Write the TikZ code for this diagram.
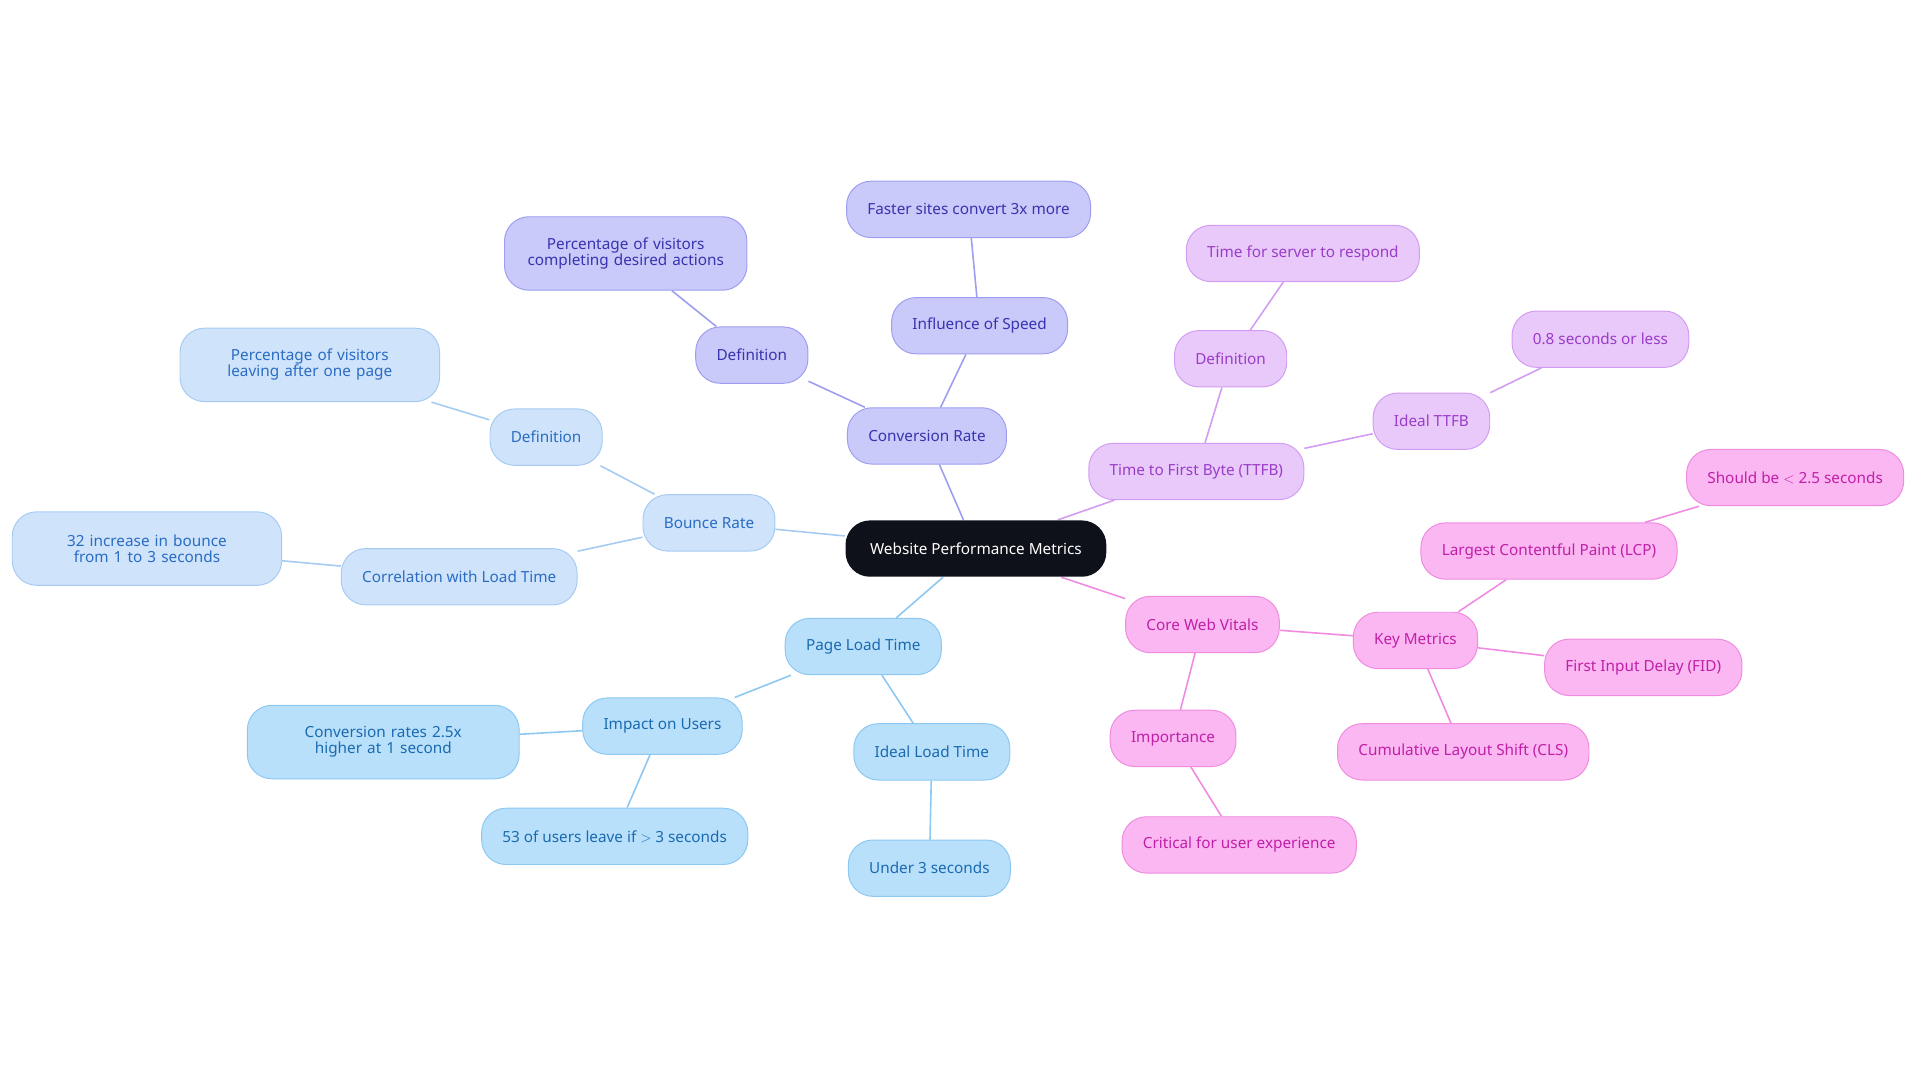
\documentclass[tikz,border=0pt]{standalone}
\usepackage{fontspec}
\setmainfont{Noto Sans}
\usetikzlibrary{backgrounds}
\definecolor{cB}{HTML}{CFE3FB}\definecolor{bB}{HTML}{A6CBF3}\definecolor{tB}{HTML}{2A6CC4}
\definecolor{cP}{HTML}{B9E0FB}\definecolor{bP}{HTML}{8CC8F2}\definecolor{tP}{HTML}{1A6AB0}
\definecolor{cC}{HTML}{C9C9FA}\definecolor{bC}{HTML}{9E9EF0}\definecolor{tC}{HTML}{3833AE}
\definecolor{cT}{HTML}{E8C9FA}\definecolor{bT}{HTML}{D29CF2}\definecolor{tT}{HTML}{9A3CC8}
\definecolor{cV}{HTML}{FBB7F1}\definecolor{bV}{HTML}{EF8BE0}\definecolor{tV}{HTML}{C01FA8}
\definecolor{dark}{HTML}{0E111A}
\tikzset{
 base/.style={rounded corners=20pt,minimum height=46pt,inner xsep=17pt,inner ysep=4pt,font=\fontsize{12.5}{13}\selectfont,align=center,line width=0.8pt},
 nb/.style={base,fill=cB,draw=bB,text=tB},
 np/.style={base,fill=cP,draw=bP,text=tP},
 nc/.style={base,fill=cC,draw=bC,text=tC},
 nt/.style={base,fill=cT,draw=bT,text=tT},
 nv/.style={base,fill=cV,draw=bV,text=tV},
 eb/.style={draw=bB,line width=1.3pt},
 ep/.style={draw=bP,line width=1.3pt},
 ec/.style={draw=bC,line width=1.3pt},
 et/.style={draw=bT,line width=1.3pt},
 ev/.style={draw=bV,line width=1.3pt},
}
\begin{document}
\begin{tikzpicture}[x=1pt,y=-1pt]
\useasboundingbox (0,0) rectangle (1568,884);
\node[base,fill=dark,text=white,minimum width=213pt] (m) at (797,448) {Website Performance Metrics};
% bounce
\node[nb] (br) at (579,427) {Bounce Rate};
\node[nb] (bd) at (446,357) {Definition};
\node[nb,text width=178pt,minimum height=60pt] (bdt) at (253,298) {Percentage of visitors leaving after one page};
\node[nb] (bc) at (375,471) {Correlation with Load Time};
\node[nb,text width=186pt,minimum height=60pt] (bct) at (120,448) {32 increase in bounce from 1 to 3 seconds};
% page load
\node[np] (pl) at (705,528) {Page Load Time};
\node[np] (pi) at (541,593) {Impact on Users};
\node[np,text width=188pt,minimum height=60pt] (pic) at (313,606) {Conversion rates 2.5x higher at 1 second};
\node[np] (pil) at (502,683) {53 of users leave if $>$ 3 seconds};
\node[np] (pd) at (761,614) {Ideal Load Time};
\node[np] (pdu) at (759,709) {Under 3 seconds};
% conversion
\node[nc] (cr) at (757,356) {Conversion Rate};
\node[nc] (cd) at (614,290) {Definition};
\node[nc,text width=164pt,minimum height=60pt] (cdt) at (511,207) {Percentage of visitors completing desired actions};
\node[nc] (cs) at (800,266) {Influence of Speed};
\node[nc] (csf) at (791,171) {Faster sites convert 3x more};
% ttfb
\node[nt] (tt) at (977,385) {Time to First Byte (TTFB)};
\node[nt] (td) at (1005,293) {Definition};
\node[nt] (tds) at (1064,207) {Time for server to respond};
\node[nt] (ti) at (1169,344) {Ideal TTFB};
\node[nt] (tis) at (1307,277) {0.8 seconds or less};
% core web vitals
\node[nv] (cw) at (982,510) {Core Web Vitals};
\node[nv] (ci) at (958,603) {Importance};
\node[nv] (cic) at (1012,690) {Critical for user experience};
\node[nv] (ck) at (1156,523) {Key Metrics};
\node[nv] (lcp) at (1265,450) {Largest Contentful Paint (LCP)};
\node[nv] (lcs) at (1466,390) {Should be $<$ 2.5 seconds};
\node[nv] (fid) at (1342,545) {First Input Delay (FID)};
\node[nv] (cls) at (1195,614) {Cumulative Layout Shift (CLS)};
\begin{scope}[on background layer]
\draw[eb] (m)--(br) (br)--(bd) (bd)--(bdt) (br)--(bc) (bc)--(bct);
\draw[ep] (m)--(pl) (pl)--(pi) (pi)--(pic) (pi)--(pil) (pl)--(pd) (pd)--(pdu);
\draw[ec] (m)--(cr) (cr)--(cd) (cd)--(cdt) (cr)--(cs) (cs)--(csf);
\draw[et] (m)--(tt) (tt)--(td) (td)--(tds) (tt)--(ti) (ti)--(tis);
\draw[ev] (m)--(cw) (cw)--(ci) (ci)--(cic) (cw)--(ck) (ck)--(lcp) (lcp)--(lcs) (ck)--(fid) (ck)--(cls);
\end{scope}
\end{tikzpicture}
\end{document}
